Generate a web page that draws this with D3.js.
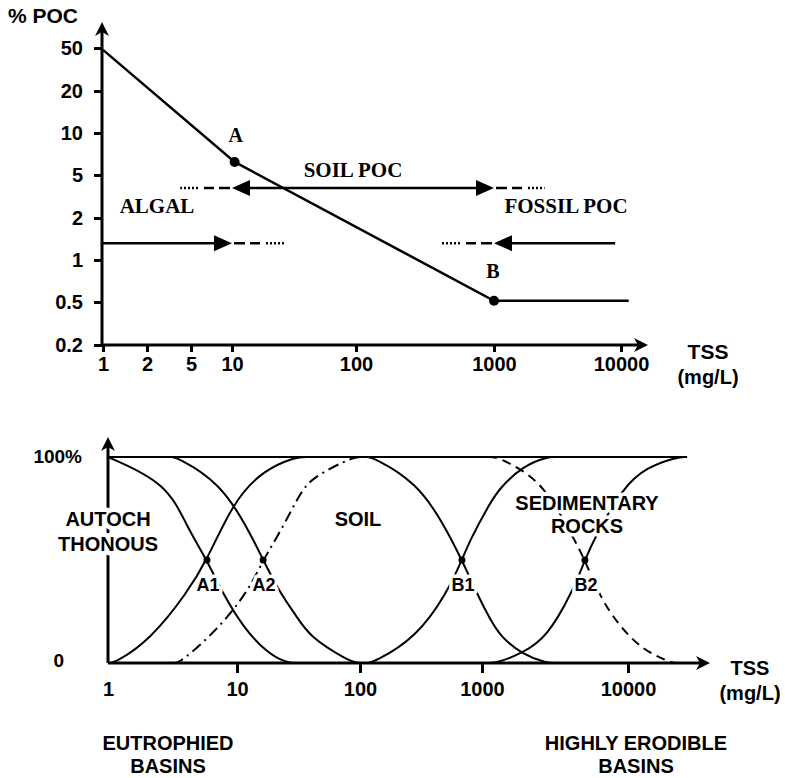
<!DOCTYPE html>
<html><head><meta charset="utf-8">
<script src="https://cdn.jsdelivr.net/npm/d3@7"></script>
<style>body{margin:0;background:#fff} svg{display:block}</style>
</head><body>
<svg id="c" width="785" height="778"></svg>
<script>
// ================= DATA =================
// Top panel: %POC vs TSS
const topXTicks = [1, 2, 5, 10, 100, 1000, 10000];
const topYTicks = [50, 20, 10, 5, 2, 1, 0.5, 0.2];
const pocLine = [[1, 48], [10.5, 6.2], [1000, 0.51], [11500, 0.51]];
const pocPoints = [{name: "A", tss: 10.5, poc: 6.2}, {name: "B", tss: 1000, poc: 0.51}];
// arrows: start of solid shaft, tip, end of dashed tail, level
const soilArrows = [
  {start: 100, tip: 10, tail: 4, poc: 3.8},
  {start: 100, tip: 1000, tail: 2500, poc: 3.8}
];
const algalArrow = {start: 1, tip: 10, tail: 27, poc: 1.32};
const fossilArrow = {start: 9000, tip: 1000, tail: 350, poc: 1.32};

// Bottom panel: share of POC sources vs TSS
const bottomXTicks = [1, 10, 100, 1000, 10000];
const bottomYLabels = ["0", "100%"];
const topLevel = [[1, 100], [25400, 100]];
const autochFallA1 = [[1, 100], [2.87, 87.4], [4.1, 66], [5.85, 50], [7.79, 33.5], [11.2, 17.5], [17.5, 4.9], [25.5, 0], [30, 0]];
const soilRiseA1 = [[1, 0], [1.13, 0], [2.12, 11.2], [4.1, 34], [5.85, 50], [9.3, 77.7], [15.4, 92.2], [25.5, 98.5], [32.5, 100], [38, 100]];
const autochFallA2 = [[3.0, 100], [3.43, 100], [7.38, 87.4], [12.1, 66], [16.3, 50], [22.4, 34], [30.8, 22.3], [39.2, 12.6], [78.3, 1.5], [94.6, 0], [110, 0]];
const soilRiseA2 = [[3.2, 0], [3.62, 0], [7.0, 16], [12.1, 34], [16.3, 50], [23.7, 66], [32.5, 82.5], [41.5, 90.3], [78.3, 98.5], [94.6, 100], [110, 100]];
const soilFallB1 = [[110, 100], [128, 100], [293, 87.4], [479, 68], [685, 50], [963, 30.6], [1135, 21.4], [1327, 13.1], [1908, 3.9], [2785, 0], [3200, 0]];
const rockRiseB1 = [[110, 0], [128, 0], [293, 12.6], [516, 34], [685, 50], [798, 59.7], [1135, 77.7], [1327, 85], [1908, 95.6], [2785, 100], [3200, 100]];
const soilFallB2 = [[1100, 100], [1267, 100], [1908, 93.7], [2785, 84], [4198, 61.2], [5070, 50], [6427, 32], [8810, 17.5], [12680, 6.3], [18500, 1], [21000, 0]];
const rockRiseB2 = [[1100, 0], [1267, 0], [1908, 4.9], [2785, 12.6], [4130, 34], [5070, 50], [5940, 61.2], [9250, 85.4], [13490, 95.1], [21700, 100], [25000, 100]];
const crossPoints = [{name: "A1", tss: 5.85}, {name: "A2", tss: 16.3}, {name: "B1", tss: 685}, {name: "B2", tss: 5070}];

// ================= DRAW =================
const svg = d3.select("#c");
const SANS = "'Liberation Sans', Arial, Helvetica, sans-serif";
const SERIF = "'Liberation Serif', 'Times New Roman', serif";

function txt(g, s, x, y, opt = {}) {
  const t = g.append("text").attr("x", x).attr("y", y).text(s)
    .attr("font-family", opt.serif ? SERIF : SANS)
    .attr("font-weight", "bold")
    .attr("font-size", opt.size || 20)
    .attr("text-anchor", opt.anchor || "middle")
    .attr("fill", "#000");
  if (opt.halo) t.attr("stroke", "#fff").attr("stroke-width", opt.halo).attr("paint-order", "stroke").attr("stroke-linejoin", "round");
  return t;
}
function arrowUp(g, x, y) {
  g.append("path").attr("d", `M${x},${y} L${x - 7},${y + 14} L${x},${y + 10} L${x + 7},${y + 14} Z`).attr("fill", "#000");
}
function arrowRight(g, x, y) {
  g.append("path").attr("d", `M${x},${y} L${x - 14},${y - 7} L${x - 10},${y} L${x - 14},${y + 7} Z`).attr("fill", "#000");
}

// ---------- Top panel ----------
const xT = d3.scaleLog().domain(topXTicks).range([103, 147, 191, 232, 356, 494, 621]);
const yT = d3.scaleLog().domain(topYTicks.slice().reverse()).range([345, 302, 260, 218, 175, 133, 91, 48]);
const gT = svg.append("g");

const xAxisT = d3.axisBottom(xT).tickValues(topXTicks).tickFormat(d3.format("d")).tickSize(7).tickSizeOuter(0).tickPadding(5);
const gxT = gT.append("g").attr("transform", `translate(0,${yT(0.2)})`).call(xAxisT);
gxT.select(".domain").remove();
gxT.selectAll(".tick line").attr("stroke", "#000").attr("stroke-width", 3);
gxT.selectAll(".tick text").attr("font-family", SANS).attr("font-weight", "bold").attr("font-size", 20).attr("fill", "#000");

const yAxisT = d3.axisLeft(yT).tickValues(topYTicks).tickFormat(d => String(d)).tickSize(8).tickSizeOuter(0).tickPadding(11);
const gyT = gT.append("g").attr("transform", `translate(${xT(1) - 1},0)`).call(yAxisT);
gyT.select(".domain").remove();
gyT.selectAll(".tick line").attr("stroke", "#000").attr("stroke-width", 3);
gyT.selectAll(".tick text").attr("font-family", SANS).attr("font-weight", "bold").attr("font-size", 20).attr("fill", "#000");

gT.append("line").attr("x1", xT(1) - 1).attr("x2", 640).attr("y1", yT(0.2)).attr("y2", yT(0.2)).attr("stroke", "#000").attr("stroke-width", 3);
arrowRight(gT, 648, yT(0.2));
gT.append("line").attr("x1", xT(1) - 1).attr("x2", xT(1) - 1).attr("y1", yT(0.2)).attr("y2", 30).attr("stroke", "#000").attr("stroke-width", 3);
arrowUp(gT, xT(1) - 1, 22);

const lineT = d3.line().x(d => xT(d[0])).y(d => yT(d[1]));
gT.append("path").attr("d", lineT(pocLine)).attr("fill", "none").attr("stroke", "#000").attr("stroke-width", 2.5);
gT.selectAll("circle.pt").data(pocPoints).join("circle").attr("class", "pt")
  .attr("cx", d => xT(d.tss)).attr("cy", d => yT(d.poc)).attr("r", 5).attr("fill", "#000");

function drawArrow(a) {
  const y = yT(a.poc), xs = xT(a.start), xt = xT(a.tip), xe = xT(a.tail);
  const dir = Math.sign(xt - xs), L = 18, H = 8;
  gT.append("line").attr("x1", xs).attr("x2", xt - dir * L).attr("y1", y).attr("y2", y).attr("stroke", "#000").attr("stroke-width", 2.5);
  gT.append("path").attr("d", `M${xt},${y} L${xt - dir * L},${y - H} L${xt - dir * L},${y + H} Z`).attr("fill", "#000");
  gT.append("line").attr("x1", xt + dir * 2).attr("x2", xe).attr("y1", y).attr("y2", y).attr("stroke", "#000").attr("stroke-width", 2.5)
    .attr("stroke-dasharray", "11 5 10 6 2 2 2 2 2 2 2 2 2 60");
}
soilArrows.forEach(drawArrow);
drawArrow(algalArrow);
drawArrow(fossilArrow);

txt(gT, "% POC", 8, 23, {anchor: "start", size: 21});
txt(gT, "TSS", 708, 359, {size: 21});
txt(gT, "(mg/L)", 708, 384, {size: 20});
txt(gT, "A", xT(pocPoints[0].tss) + 1, 142, {serif: true, size: 20});
txt(gT, "B", xT(pocPoints[1].tss) - 1, 278, {serif: true, size: 20});
txt(gT, "SOIL POC", 353, 177, {serif: true, size: 21});
txt(gT, "ALGAL", 157, 213, {serif: true, size: 21});
txt(gT, "FOSSIL POC", 566, 213, {serif: true, size: 21});

// ---------- Bottom panel ----------
const xB = d3.scaleLog().domain(bottomXTicks).range([108, 237, 360, 482, 628]);
const yB = d3.scaleLinear().domain([0, 100]).range([663, 457]);
const gB = svg.append("g");

const xAxisB = d3.axisBottom(xB).tickValues(bottomXTicks).tickFormat(d3.format("d")).tickSize(10).tickSizeOuter(0).tickPadding(9);
const gxB = gB.append("g").attr("transform", `translate(0,${yB(0)})`).call(xAxisB);
gxB.select(".domain").remove();
gxB.selectAll(".tick line").attr("stroke", "#000").attr("stroke-width", 3);
gxB.selectAll(".tick").filter(d => d === 1).select("line").remove();
gxB.selectAll(".tick text").attr("font-family", SANS).attr("font-weight", "bold").attr("font-size", 20).attr("fill", "#000");

const lineB = d3.line().x(d => xB(d[0])).y(d => yB(d[1])).curve(d3.curveBasis);
gB.append("path").attr("d", d3.line().x(d => xB(d[0])).y(d => yB(d[1]))(topLevel)).attr("fill", "none").attr("stroke", "#000").attr("stroke-width", 2.2);

const curves = [
  {d: autochFallA1, dash: null},
  {d: soilRiseA1, dash: null},
  {d: autochFallA2, dash: null},
  {d: soilRiseA2, dash: "11 5 2 5"},
  {d: soilFallB1, dash: null},
  {d: rockRiseB1, dash: null},
  {d: soilFallB2, dash: "9 6"},
  {d: rockRiseB2, dash: null}
];
curves.forEach(c => {
  const p = gB.append("path").attr("d", lineB(c.d)).attr("fill", "none").attr("stroke", "#000").attr("stroke-width", 2);
  if (c.dash) p.attr("stroke-dasharray", c.dash);
});

gB.append("line").attr("x1", xB(1)).attr("x2", 702).attr("y1", yB(0)).attr("y2", yB(0)).attr("stroke", "#000").attr("stroke-width", 3);
arrowRight(gB, 710, yB(0));
gB.append("line").attr("x1", xB(1)).attr("x2", xB(1)).attr("y1", yB(0)).attr("y2", 445).attr("stroke", "#000").attr("stroke-width", 3);
arrowUp(gB, xB(1), 437);

gB.selectAll("circle.cp").data(crossPoints).join("circle").attr("class", "cp")
  .attr("cx", d => xB(d.tss)).attr("cy", yB(50)).attr("r", 3.5).attr("fill", "#000");
crossPoints.forEach(d => txt(gB, d.name, xB(d.tss) + 1, yB(50) + 31, {size: 18, halo: 7}));

txt(gB, bottomYLabels[1], 82, 463, {anchor: "end", size: 19});
txt(gB, bottomYLabels[0], 64, 667, {anchor: "end", size: 19});
txt(gB, "AUTOCH", 108, 526, {size: 20, halo: 9});
txt(gB, "THONOUS", 108, 551, {size: 20, halo: 9});
txt(gB, "SOIL", 358, 526, {size: 20});
txt(gB, "SEDIMENTARY", 587, 510, {size: 20, halo: 7});
txt(gB, "ROCKS", 587, 533, {size: 20, halo: 7});
txt(gB, "TSS", 750, 675, {size: 20});
txt(gB, "(mg/L)", 750, 700, {size: 20});
txt(gB, "EUTROPHIED", 168, 750, {size: 20});
txt(gB, "BASINS", 168, 773, {size: 20});
txt(gB, "HIGHLY ERODIBLE", 636, 750, {size: 20});
txt(gB, "BASINS", 636, 773, {size: 20});
</script>
</body></html>
